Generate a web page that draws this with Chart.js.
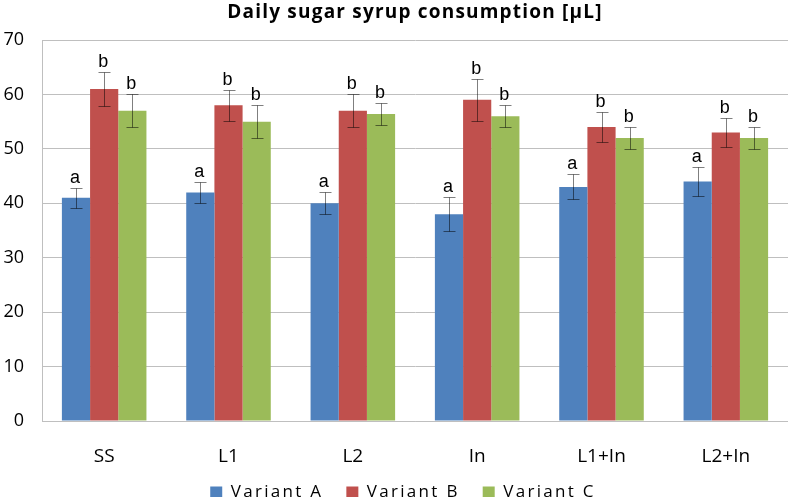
<!DOCTYPE html>
<html>
<head>
<meta charset="utf-8">
<script src="https://cdn.jsdelivr.net/npm/chart.js@4.4.1/dist/chart.umd.min.js"></script>
<style>
  html, body { margin: 0; padding: 0; background: #fff; }
  #wrap { width: 788px; height: 497px; position: relative; }
</style>
</head>
<body>
<div id="wrap"><canvas id="c" width="788" height="497"></canvas></div>
<script>
const categories = ['SS', 'L1', 'L2', 'In', 'L1+In', 'L2+In'];
const seriesNames = ['Variant A', 'Variant B', 'Variant C'];
const variantA = [41, 42, 40, 38, 43, 44];
const variantB = [61, 58, 57, 59, 54, 53];
const variantC = [57, 55, 56.4, 56, 52, 52];
const errorA = [1.9, 2.0, 2.0, 3.1, 2.3, 2.6];
const errorB = [3.1, 2.9, 3.0, 3.8, 2.7, 2.7];
const errorC = [3.0, 3.0, 2.0, 2.0, 2.0, 2.0];
const lettersA = ['a', 'a', 'a', 'a', 'a', 'a'];
const lettersB = ['b', 'b', 'b', 'b', 'b', 'b'];
const lettersC = ['b', 'b', 'b', 'b', 'b', 'b'];
const yTicks = [0, 10, 20, 30, 40, 50, 60, 70];

const colors = ['#4F81BD', '#C0504D', '#9BBB59'];
const errors = [errorA, errorB, errorC];
const letters = [lettersA, lettersB, lettersC];

function withSpacing(obj, spacing, shiftX) {
  if (!obj) return;
  ['fit', 'draw'].forEach(fn => {
    const orig = obj[fn];
    obj[fn] = function (...args) {
      const ctx = this.ctx;
      const prev = ctx.letterSpacing;
      ctx.save();
      ctx.letterSpacing = spacing;
      if (fn === 'draw' && shiftX) ctx.translate(shiftX, 0);
      try { return orig.apply(this, args); } finally { ctx.restore(); ctx.letterSpacing = prev; }
    };
  });
}

const spacingPlugin = {
  id: 'spacing',
  afterInit(chart) {
    withSpacing(chart.legend, '2.3px', 8);
    withSpacing(chart.titleBlock, '1.2px', 0);
  }
};

const errorBarPlugin = {
  id: 'errorBars',
  afterDatasetsDraw(chart) {
    const ctx = chart.ctx;
    const ys = chart.scales.y;
    ctx.save();
    chart.data.datasets.forEach((ds, di) => {
      const meta = chart.getDatasetMeta(di);
      meta.data.forEach((bar, i) => {
        const v = ds.data[i];
        const e = errors[di][i];
        const yt = Math.round(ys.getPixelForValue(v + e)) + 0.5;
        const yb = Math.round(ys.getPixelForValue(v - e)) + 0.5;
        const x = Math.round(bar.x) + 0.5;
        ctx.strokeStyle = 'rgba(0,0,0,0.5)';
        ctx.lineWidth = 1;
        ctx.beginPath();
        ctx.moveTo(x, yt); ctx.lineTo(x, yb);
        ctx.moveTo(x - 6, yt); ctx.lineTo(x + 6, yt);
        ctx.moveTo(x - 6, yb); ctx.lineTo(x + 6, yb);
        ctx.stroke();
        ctx.fillStyle = '#000';
        ctx.font = '18px "Liberation Sans", Arial, sans-serif';
        ctx.textAlign = 'center';
        ctx.textBaseline = 'alphabetic';
        ctx.fillText(letters[di][i], bar.x - 1, yt - 6);
      });
    });
    ctx.restore();
  }
};

new Chart(document.getElementById('c'), {
  type: 'bar',
  data: {
    labels: categories,
    datasets: [
      { label: seriesNames[0], data: variantA, backgroundColor: colors[0] },
      { label: seriesNames[1], data: variantB, backgroundColor: colors[1] },
      { label: seriesNames[2], data: variantC, backgroundColor: colors[2] }
    ]
  },
  plugins: [spacingPlugin, errorBarPlugin],
  options: {
    responsive: false,
    animation: false,
    devicePixelRatio: 1,
    layout: { padding: { left: 2, right: 0, top: 1, bottom: 0 } },
    datasets: { bar: { categoryPercentage: 0.68, barPercentage: 1.0, borderWidth: 0 } },
    scales: {
      x: {
        afterFit(scale) {
          scale.height = 40;
          scale._computeLabelArea = () => undefined;
        },
        grid: { display: false, drawTicks: false },
        border: { display: true, color: '#bfbfbf', width: 1 },
        ticks: { color: '#000', padding: 24, font: { family: '"Open Sans"', size: 19 } }
      },
      y: {
        min: 0, max: 70,
        afterFit(scale) { scale.width = 40; },
        afterBuildTicks(axis) { axis.ticks = yTicks.map(v => ({ value: v })); },
        grid: { color: '#bfbfbf', drawTicks: false },
        border: { display: true, color: '#bfbfbf', width: 1 },
        ticks: { color: '#000', padding: 18, font: { family: '"Open Sans"', size: 18 } }
      }
    },
    plugins: {
      title: {
        display: true,
        text: 'Daily sugar syrup consumption [µL]',
        fullSize: false,
        color: '#000',
        font: { family: '"Open Sans"', size: 19, weight: 'bold' },
        padding: { top: 0, bottom: 16.2 }
      },
      legend: {
        position: 'bottom',
        maxHeight: 36,
        labels: {
          color: '#000',
          boxWidth: 12, boxHeight: 12,
          padding: 23,
          font: { family: '"Open Sans"', size: 17 }
        }
      },
      tooltip: { enabled: false }
    }
  }
});
</script>
</body>
</html>
